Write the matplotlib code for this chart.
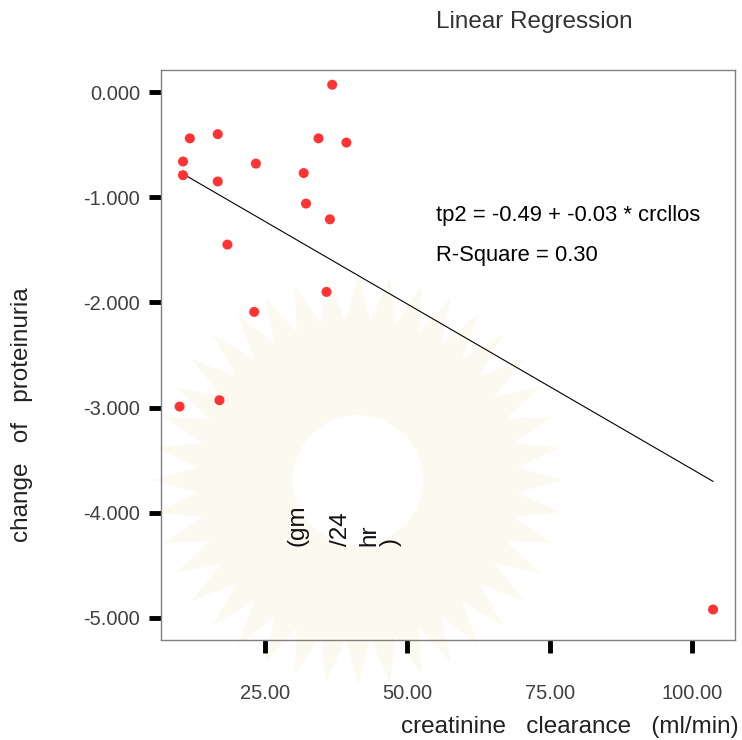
import numpy as np
import matplotlib
matplotlib.use("Agg")
import matplotlib.pyplot as plt
from matplotlib.patches import Polygon, Circle

plt.rcParams['font.family'] = ['Liberation Sans', 'DejaVu Sans']

# data
clearance = [36.8, 11.8, 16.7, 34.4, 39.3, 10.6, 23.4, 10.6, 31.8, 16.7,
             32.2, 36.4, 18.4, 35.8, 23.1, 10.0, 17.0, 103.7]
proteinuria = [0.07, -0.44, -0.40, -0.44, -0.48, -0.66, -0.68, -0.79, -0.77, -0.85,
               -1.06, -1.21, -1.45, -1.90, -2.09, -2.99, -2.93, -4.92]
x_ticks = [25, 50, 75, 100]
y_ticks = [0, -1, -2, -3, -4, -5]

W, H = 742, 740
fig = plt.figure(figsize=(W / 100, H / 100), dpi=100)

# faint sunburst watermark behind the plot
cx, cy = 358, 480
ang = np.radians(np.arange(0, 360, 4.5))
rad = np.where(np.arange(len(ang)) % 2 == 0, 205, 160)
star = [((cx + r * np.cos(t)) / W, 1 - (cy + r * np.sin(t)) / H) for t, r in zip(ang, rad)]
fig.add_artist(Polygon(star, closed=True, facecolor='#fcfaf0', edgecolor='none',
                       transform=fig.transFigure, zorder=-2))
fig.add_artist(Circle((cx / W, 1 - cy / H), 65 / W, facecolor='white', edgecolor='none',
                      transform=fig.transFigure, zorder=-1))

ax = fig.add_axes([161 / W, 1 - 640 / H, (735 - 161) / W, (640 - 70) / H])
ax.patch.set_alpha(0)

ax.scatter(clearance, proteinuria, s=52, color='#ff3333', edgecolors='none', zorder=3)

# fit line
b1, b0 = np.polyfit(clearance, proteinuria, 1)
xs = np.array([min(clearance), max(clearance)])
ax.plot(xs, b0 + b1 * xs, color='black', lw=0.8, zorder=2)

ax.set_xlim(6.73, 107.55)
ax.set_ylim(-5.21, 0.21)
ax.set_xticks(x_ticks)
ax.set_xticklabels([f"{v:.2f}" for v in x_ticks])
ax.set_yticks(y_ticks)
ax.set_yticklabels([f"{v:.3f}" for v in y_ticks])
ax.tick_params(axis='both', direction='out', length=9, width=3.5, color='black',
               labelsize=14.5, labelcolor='#404040')
ax.tick_params(axis='x', pad=23)
ax.tick_params(axis='y', pad=6)
for sp in ax.spines.values():
    sp.set_color('#808080')
    sp.set_linewidth(1)

ax.text(0.479, 0.744, "tp2 = -0.49 + -0.03 * crcllos", transform=ax.transAxes,
        fontsize=15.8, color='black', va='center')
ax.text(0.479, 0.674, "R-Square = 0.30", transform=ax.transAxes,
        fontsize=15.8, color='black', va='center')

fig.text(534 / W, 1 - 22 / H, "Linear Regression", ha='center', va='center',
         fontsize=17.5, color='#333333')
fig.text(739 / W, 1 - 727 / H, "creatinine   clearance   (ml/min)", ha='right',
         va='center', fontsize=17.5, color='#222222')
fig.text(22 / W, 1 - 415 / H, "change   of   proteinuria", ha='center', va='center',
         rotation=90, fontsize=17.5, color='#222222')

# stray pieces of the y-label unit
for s, px in [("(gm", 298), ("/24", 341), ("hr", 369), (")", 391)]:
    fig.text(px / W, 1 - 546 / H, s, ha='center', va='bottom', rotation=90,
             fontsize=17.5, color='#111111')

fig.savefig("out.png", dpi=100)
